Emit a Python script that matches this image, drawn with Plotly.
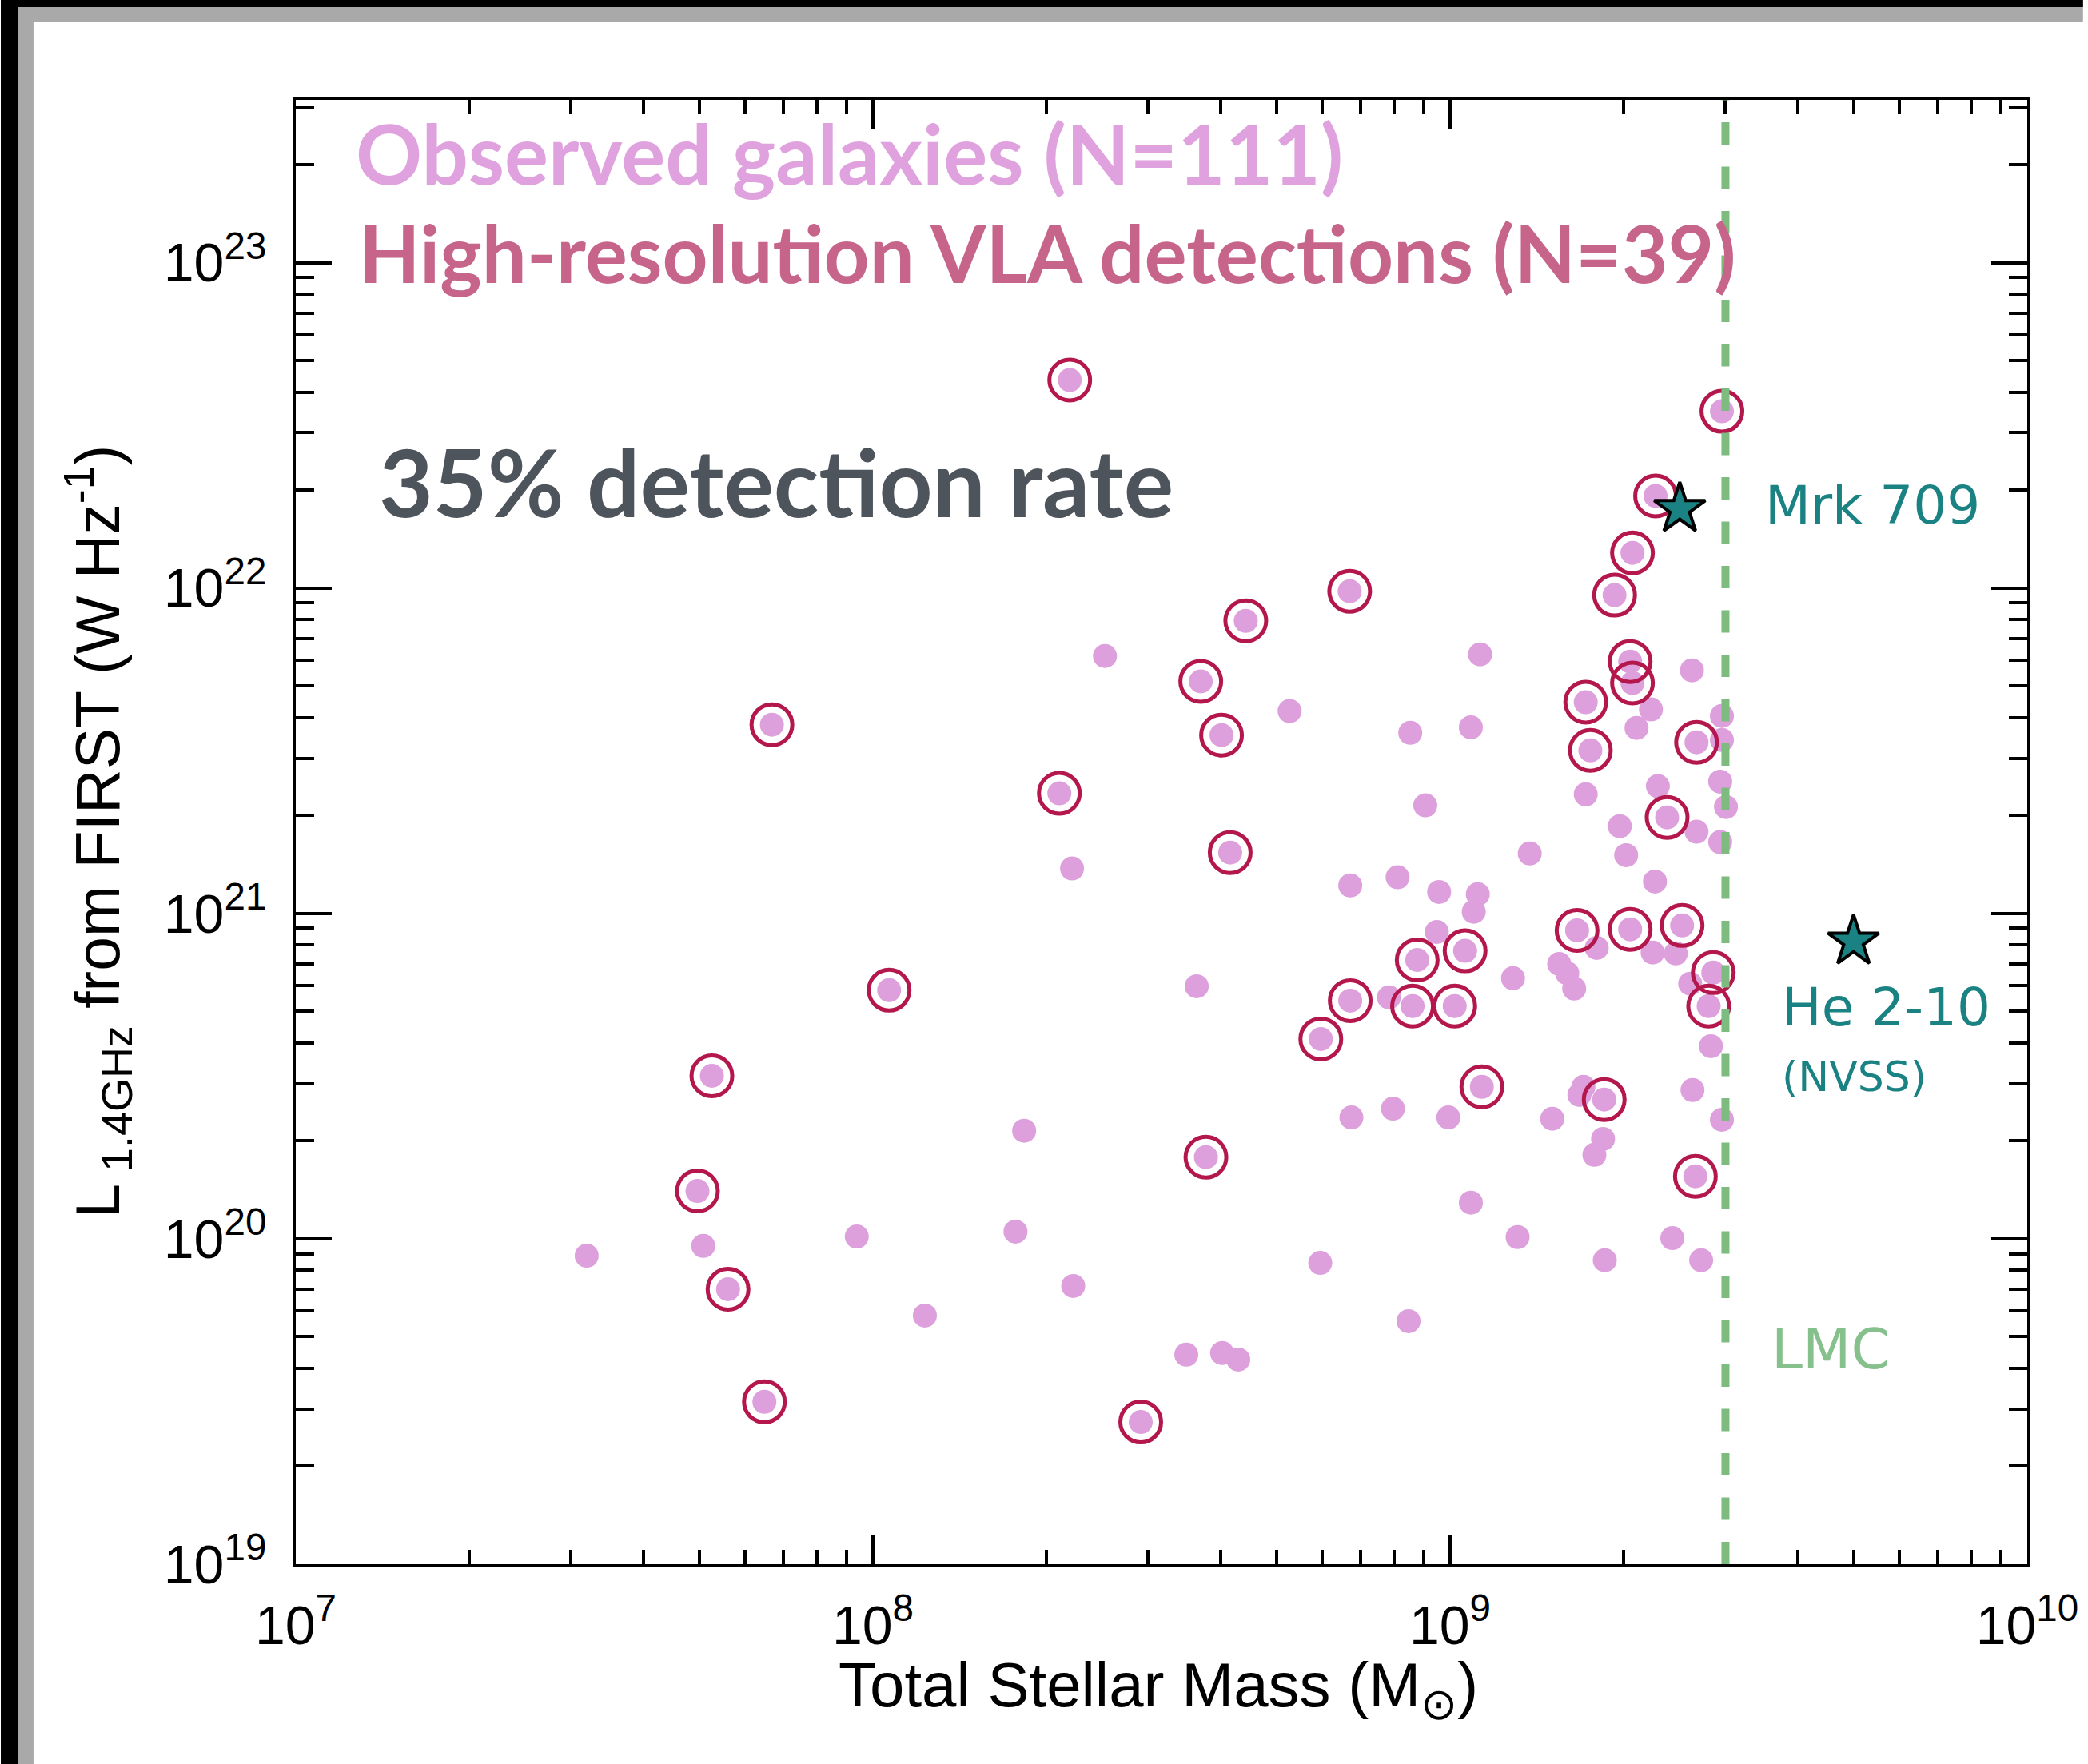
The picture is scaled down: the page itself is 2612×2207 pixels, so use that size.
import numpy as np
import plotly.graph_objects as go

# ---- data (log10 stellar mass [Msun], log10 L_1.4GHz [W/Hz]) ----
# galaxies detected in the high-resolution VLA imaging (drawn with rings)
det_logm = [8.341, 9.471, 9.356, 9.316, 9.285, 8.826, 8.646, 8.568, 8.604, 9.312,
            9.316, 9.235, 9.427, 9.243, 7.825, 8.323, 9.376, 8.619, 9.220, 9.312,
            9.402, 8.028, 8.943, 9.026, 9.456, 9.448, 8.827, 8.935, 9.008, 8.776,
            7.721, 9.055, 9.267, 7.696, 8.577, 9.425, 7.749, 7.812, 8.464]
det_logl = [22.639, 22.543, 22.283, 22.108, 21.978, 21.990, 21.899, 21.713, 21.548, 21.774,
            21.708, 21.649, 21.526, 21.501, 21.580, 21.369, 21.295, 21.187, 20.948, 20.951,
            20.963, 20.764, 20.857, 20.885, 20.818, 20.715, 20.732, 20.715, 20.715, 20.614,
            20.501, 20.467, 20.428, 20.147, 20.251, 20.192, 19.845, 19.499, 19.437]

# remaining observed galaxies without a high-resolution detection
nondet_logm = [8.402, 8.345, 8.722, 9.052, 8.931, 9.036, 8.957, 8.827, 8.909, 8.981,
               9.048, 9.041, 9.138, 9.419, 9.348, 9.323, 9.471, 9.471, 9.235, 9.360,
               9.468, 9.478, 9.294, 9.427, 9.468, 9.305, 9.355, 8.977, 9.109, 9.189,
               9.203, 9.215, 9.254, 9.351, 9.391, 9.416, 9.452, 8.894, 8.561, 8.829,
               8.901, 8.997, 9.177, 9.231, 9.224, 9.265, 9.250, 9.420, 9.471, 9.036,
               9.117, 9.268, 9.385, 9.435, 8.775, 8.928, 8.543, 8.605, 8.633, 8.262,
               7.504, 7.706, 7.972, 8.247, 8.347, 8.090]
nondet_logl = [21.791, 21.138, 21.622, 21.796, 21.555, 21.572, 21.332, 21.086, 21.111, 21.066,
               21.059, 21.005, 21.184, 21.747, 21.627, 21.570, 21.607, 21.533, 21.366, 21.391,
               21.405, 21.327, 21.268, 21.251, 21.219, 21.179, 21.098, 20.943, 20.801, 20.845,
               20.816, 20.769, 20.894, 20.880, 20.877, 20.784, 20.592, 20.742, 20.776, 20.373,
               20.400, 20.373, 20.369, 20.467, 20.442, 20.307, 20.258, 20.457, 20.366, 20.111,
               20.005, 19.934, 20.002, 19.934, 19.926, 19.747, 19.644, 19.649, 19.629, 20.332,
               19.948, 19.978, 20.007, 20.022, 19.855, 19.764]

# comparison objects
ref_names = ["Mrk 709", "He 2-10"]
ref_mass = [2.5e9, 5.0e9]
ref_lum = [1.75e22, 8.2e20]

lmc_mass = 3.0e9

x_decades = [7, 8, 9, 10]
y_decades = [19, 20, 21, 22, 23]

# ---- styling ----
DOT = "#DDA0DD"
RING = "#B3174C"
TEAL = "#1A8282"
GREEN = "#7DBB7F"
W, H = 2612, 2207
L, R, T, B = 370, 70, 125, 250

all_m = 10.0 ** np.array(nondet_logm + det_logm)
all_l = 10.0 ** np.array(nondet_logl + det_logl)
det_m = 10.0 ** np.array(det_logm)
det_l = 10.0 ** np.array(det_logl)

fig = go.Figure()

fig.add_trace(go.Scatter(
    x=all_m, y=all_l, mode="markers", hoverinfo="skip",
    marker=dict(size=30, color=DOT, line=dict(width=0)),
))
fig.add_trace(go.Scatter(
    x=det_m, y=det_l, mode="markers", hoverinfo="skip",
    marker=dict(symbol="circle-open", size=51, color=RING, line=dict(width=5, color=RING)),
))
fig.add_trace(go.Scatter(
    x=ref_mass, y=ref_lum, mode="markers", hoverinfo="skip",
    marker=dict(symbol="star", size=48, color=TEAL, line=dict(width=4, color="black")),
))

# LMC stellar mass
fig.add_shape(type="line", xref="x", yref="paper", x0=lmc_mass, x1=lmc_mass, y0=0, y1=1,
              line=dict(color=GREEN, width=10, dash="28px,27.5px"), layer="above")

# frame bands along the top and left edges of the page
pw, ph = W - L - R, H - T - B
def px(xp):
    return (xp - L) / pw
def py(yp):
    return (H - B - yp) / ph
fig.add_shape(type="rect", xref="paper", yref="paper", x0=px(0), x1=px(W), y0=py(27), y1=py(0),
              fillcolor="#A9A9A9", line=dict(width=0), layer="above")
fig.add_shape(type="rect", xref="paper", yref="paper", x0=px(0), x1=px(41), y0=py(H), y1=py(0),
              fillcolor="#A9A9A9", line=dict(width=0), layer="above")
fig.add_shape(type="rect", xref="paper", yref="paper", x0=px(0), x1=px(W), y0=py(9), y1=py(0),
              fillcolor="black", line=dict(width=0), layer="above")
fig.add_shape(type="rect", xref="paper", yref="paper", x0=px(0), x1=px(22), y0=py(H), y1=py(0),
              fillcolor="black", line=dict(width=0), layer="above")

x_minor = [m * 10.0 ** d for d in x_decades[:-1] for m in range(2, 10)]
y_minor = [v for v in (m * 10.0 ** d for d in y_decades for m in range(2, 10)) if v < 10.0 ** 23.5]

TICKFONT = "Liberation Sans, Arial, sans-serif"
axis_common = dict(
    type="log", showgrid=False, zeroline=False,
    showline=True, linecolor="black", linewidth=4, mirror="allticks",
    ticks="inside", tickcolor="black", tickwidth=4,
    tickfont=dict(family=TICKFONT, size=68, color="black"),
    ticklabeloverflow="allow",
)

fig.update_xaxes(
    **axis_common, range=[7, 10], ticklen=37,
    tickmode="array", tickvals=[10.0 ** d for d in x_decades],
    ticktext=[f"10<sup>{d}</sup>" for d in x_decades],
    minor=dict(tickmode="array", tickvals=x_minor, ticklen=18, tickwidth=4,
               tickcolor="black", ticks="inside", showgrid=False),
    ticklabelstandoff=14,
)
fig.update_yaxes(
    **axis_common, range=[19, 23.5], ticklen=45,
    tickmode="array", tickvals=[10.0 ** d for d in y_decades],
    ticktext=[f"10<sup>{d}</sup>" for d in y_decades],
    minor=dict(tickmode="array", tickvals=y_minor, ticklen=23, tickwidth=4,
               tickcolor="black", ticks="inside", showgrid=False),
    ticklabelstandoff=19,
)

SANS = "Liberation Sans, Arial, sans-serif"
HEAD = "Lato, Avenir, sans-serif"
LBL = "DejaVu Sans, Verdana, sans-serif"

annotations = [
    dict(text="<b>Observed galaxies (N=111)</b>", x=px(443), y=py(191), xanchor="left",
         yanchor="middle", font=dict(family=HEAD, size=103, color="#E0A2DE")),
    dict(text="<b>High-resolution VLA detections (N=39)</b>", x=px(447), y=py(315),
         xanchor="left", yanchor="middle", font=dict(family=HEAD, size=99.5, color="#C7648A")),
    dict(text="<b>35% detection rate</b>", x=px(472), y=py(602), xanchor="left",
         yanchor="middle", font=dict(family=HEAD, size=117, color="#4E545B")),
    dict(text="Mrk 709", x=px(2211), y=py(632), xanchor="left", yanchor="middle",
         font=dict(family=LBL, size=66, color=TEAL)),
    dict(text="He 2-10", x=px(2232), y=py(1260), xanchor="left", yanchor="middle",
         font=dict(family=LBL, size=66, color=TEAL)),
    dict(text="(NVSS)", x=px(2232), y=py(1347), xanchor="left", yanchor="middle",
         font=dict(family=LBL, size=52, color=TEAL)),
    dict(text="LMC", x=px(2219), y=py(1688), xanchor="left", yanchor="middle",
         font=dict(family=LBL, size=70, color="#86C08C")),
    dict(text="Total Stellar Mass (M<sub>⊙</sub>)", x=px(1452), y=py(2113),
         xanchor="center", yanchor="middle", font=dict(family=SANS, size=78, color="black")),
    dict(text="L<sub> 1.4GHz</sub> from FIRST (W Hz<sup>-1</sup>)", x=px(121), y=py(1040),
         xanchor="center", yanchor="middle", textangle=-90,
         font=dict(family=SANS, size=77, color="black")),
]
for a in annotations:
    a.update(xref="paper", yref="paper", showarrow=False)

fig.update_layout(
    width=W, height=H, margin=dict(l=L, r=R, t=T, b=B, pad=0),
    paper_bgcolor="white", plot_bgcolor="white",
    showlegend=False, annotations=annotations,
)

fig.write_html("out.html")
